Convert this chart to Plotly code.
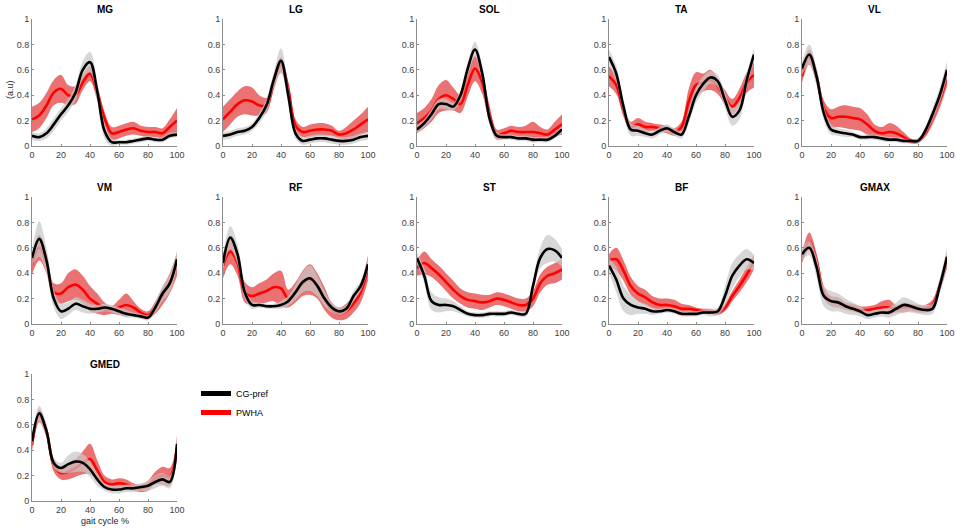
import plotly.graph_objects as go

x = list(range(0, 101, 5))

muscles = ["MG", "LG", "SOL", "TA", "VL", "VM", "RF", "ST", "BF", "GMAX", "GMED"]

# CG-pref mean and SD (black / gray band)
cg_mean = {
    "MG":   [0.08, 0.07, 0.10, 0.17, 0.25, 0.32, 0.42, 0.60, 0.66, 0.43, 0.12, 0.03, 0.03, 0.03, 0.04, 0.05, 0.06, 0.05, 0.05, 0.08, 0.09],
    "LG":   [0.08, 0.09, 0.11, 0.12, 0.15, 0.22, 0.32, 0.52, 0.67, 0.40, 0.10, 0.04, 0.05, 0.06, 0.06, 0.05, 0.04, 0.04, 0.05, 0.07, 0.08],
    "SOL":  [0.13, 0.18, 0.25, 0.33, 0.33, 0.31, 0.40, 0.61, 0.76, 0.57, 0.22, 0.08, 0.07, 0.07, 0.06, 0.06, 0.05, 0.05, 0.05, 0.08, 0.13],
    "TA":   [0.70, 0.57, 0.31, 0.13, 0.12, 0.10, 0.09, 0.12, 0.14, 0.11, 0.09, 0.23, 0.40, 0.49, 0.54, 0.51, 0.36, 0.23, 0.28, 0.52, 0.72],
    "VL":   [0.61, 0.72, 0.55, 0.26, 0.13, 0.11, 0.10, 0.09, 0.07, 0.07, 0.07, 0.06, 0.05, 0.05, 0.04, 0.04, 0.04, 0.12, 0.25, 0.40, 0.60],
    "VM":   [0.52, 0.67, 0.50, 0.20, 0.10, 0.12, 0.16, 0.14, 0.12, 0.12, 0.13, 0.12, 0.10, 0.08, 0.07, 0.06, 0.05, 0.13, 0.24, 0.32, 0.51],
    "RF":   [0.48, 0.68, 0.55, 0.25, 0.15, 0.15, 0.14, 0.14, 0.15, 0.18, 0.25, 0.33, 0.36, 0.30, 0.20, 0.13, 0.10, 0.12, 0.22, 0.30, 0.47],
    "ST":   [0.52, 0.38, 0.18, 0.15, 0.15, 0.14, 0.11, 0.08, 0.07, 0.07, 0.08, 0.08, 0.08, 0.09, 0.08, 0.08, 0.30, 0.52, 0.59, 0.58, 0.52],
    "BF":   [0.46, 0.35, 0.20, 0.15, 0.13, 0.12, 0.10, 0.10, 0.11, 0.10, 0.08, 0.08, 0.08, 0.09, 0.09, 0.10, 0.22, 0.38, 0.46, 0.51, 0.48],
    "GMAX": [0.55, 0.60, 0.45, 0.22, 0.18, 0.17, 0.14, 0.12, 0.10, 0.07, 0.08, 0.09, 0.09, 0.12, 0.15, 0.14, 0.12, 0.11, 0.12, 0.30, 0.53],
    "GMED": [0.47, 0.69, 0.55, 0.30, 0.26, 0.29, 0.31, 0.30, 0.25, 0.17, 0.11, 0.09, 0.09, 0.10, 0.10, 0.11, 0.12, 0.15, 0.17, 0.15, 0.45],
}
cg_sd = {
    "MG":   [0.03, 0.03, 0.04, 0.05, 0.05, 0.05, 0.06, 0.07, 0.08, 0.08, 0.06, 0.03, 0.02, 0.02, 0.02, 0.02, 0.02, 0.02, 0.02, 0.02, 0.02],
    "LG":   [0.03, 0.03, 0.03, 0.03, 0.03, 0.04, 0.05, 0.06, 0.10, 0.07, 0.04, 0.03, 0.03, 0.03, 0.03, 0.03, 0.03, 0.03, 0.03, 0.03, 0.03],
    "SOL":  [0.03, 0.03, 0.04, 0.04, 0.04, 0.03, 0.04, 0.05, 0.06, 0.06, 0.05, 0.03, 0.02, 0.02, 0.02, 0.02, 0.02, 0.02, 0.02, 0.02, 0.03],
    "TA":   [0.06, 0.06, 0.06, 0.05, 0.04, 0.03, 0.03, 0.03, 0.03, 0.03, 0.03, 0.05, 0.06, 0.06, 0.05, 0.05, 0.06, 0.07, 0.07, 0.06, 0.05],
    "VL":   [0.05, 0.08, 0.07, 0.06, 0.04, 0.03, 0.03, 0.02, 0.02, 0.02, 0.02, 0.02, 0.02, 0.02, 0.02, 0.01, 0.02, 0.03, 0.05, 0.06, 0.07],
    "VM":   [0.06, 0.14, 0.10, 0.07, 0.06, 0.05, 0.05, 0.05, 0.04, 0.03, 0.03, 0.03, 0.03, 0.03, 0.02, 0.02, 0.02, 0.04, 0.06, 0.07, 0.07],
    "RF":   [0.05, 0.09, 0.08, 0.05, 0.03, 0.02, 0.02, 0.02, 0.03, 0.04, 0.06, 0.08, 0.10, 0.08, 0.06, 0.04, 0.03, 0.03, 0.04, 0.04, 0.05],
    "ST":   [0.04, 0.06, 0.07, 0.06, 0.05, 0.04, 0.03, 0.02, 0.02, 0.02, 0.02, 0.02, 0.02, 0.02, 0.02, 0.02, 0.05, 0.08, 0.11, 0.09, 0.07],
    "BF":   [0.06, 0.10, 0.10, 0.08, 0.05, 0.04, 0.03, 0.02, 0.02, 0.02, 0.02, 0.02, 0.02, 0.02, 0.03, 0.03, 0.08, 0.10, 0.09, 0.08, 0.06],
    "GMAX": [0.05, 0.06, 0.08, 0.08, 0.08, 0.07, 0.06, 0.05, 0.04, 0.03, 0.03, 0.03, 0.04, 0.05, 0.06, 0.05, 0.04, 0.04, 0.04, 0.06, 0.07],
    "GMED": [0.04, 0.06, 0.05, 0.04, 0.04, 0.07, 0.08, 0.07, 0.06, 0.05, 0.03, 0.03, 0.03, 0.03, 0.03, 0.03, 0.04, 0.05, 0.05, 0.05, 0.08],
}

# PWHA mean and SD (red)
pw_mean = {
    "MG":   [0.21, 0.24, 0.32, 0.42, 0.45, 0.40, 0.40, 0.50, 0.57, 0.42, 0.22, 0.10, 0.11, 0.13, 0.14, 0.12, 0.11, 0.11, 0.10, 0.15, 0.20],
    "LG":   [0.21, 0.27, 0.33, 0.36, 0.35, 0.32, 0.32, 0.50, 0.64, 0.45, 0.16, 0.11, 0.12, 0.13, 0.13, 0.12, 0.09, 0.10, 0.13, 0.17, 0.21],
    "SOL":  [0.18, 0.22, 0.28, 0.37, 0.40, 0.37, 0.33, 0.48, 0.61, 0.50, 0.25, 0.09, 0.10, 0.12, 0.11, 0.11, 0.11, 0.10, 0.09, 0.13, 0.17],
    "TA":   [0.55, 0.48, 0.28, 0.15, 0.17, 0.15, 0.15, 0.14, 0.13, 0.11, 0.15, 0.35, 0.48, 0.50, 0.52, 0.47, 0.38, 0.31, 0.38, 0.50, 0.56],
    "VL":   [0.55, 0.70, 0.55, 0.30, 0.22, 0.23, 0.23, 0.22, 0.21, 0.17, 0.12, 0.10, 0.11, 0.10, 0.07, 0.04, 0.04, 0.10, 0.22, 0.36, 0.54],
    "VM":   [0.47, 0.60, 0.48, 0.25, 0.24, 0.29, 0.31, 0.27, 0.20, 0.16, 0.12, 0.11, 0.13, 0.15, 0.13, 0.09, 0.07, 0.13, 0.22, 0.32, 0.47],
    "RF":   [0.46, 0.57, 0.48, 0.25, 0.22, 0.24, 0.26, 0.29, 0.28, 0.20, 0.25, 0.32, 0.35, 0.30, 0.20, 0.11, 0.08, 0.10, 0.16, 0.25, 0.44],
    "ST":   [0.44, 0.48, 0.44, 0.39, 0.33, 0.27, 0.22, 0.19, 0.18, 0.17, 0.18, 0.20, 0.19, 0.17, 0.15, 0.15, 0.20, 0.32, 0.38, 0.40, 0.43],
    "BF":   [0.50, 0.51, 0.42, 0.30, 0.24, 0.21, 0.17, 0.15, 0.15, 0.14, 0.12, 0.12, 0.11, 0.10, 0.10, 0.09, 0.13, 0.22, 0.30, 0.39, 0.49],
    "GMAX": [0.52, 0.65, 0.50, 0.25, 0.18, 0.17, 0.14, 0.13, 0.11, 0.11, 0.12, 0.13, 0.13, 0.12, 0.13, 0.13, 0.12, 0.12, 0.15, 0.30, 0.50],
    "GMED": [0.44, 0.67, 0.55, 0.28, 0.22, 0.23, 0.26, 0.30, 0.33, 0.24, 0.15, 0.13, 0.14, 0.13, 0.11, 0.10, 0.12, 0.18, 0.20, 0.19, 0.42],
}
pw_sd = {
    "MG":   [0.10, 0.10, 0.10, 0.10, 0.11, 0.08, 0.07, 0.06, 0.06, 0.06, 0.05, 0.05, 0.05, 0.05, 0.05, 0.04, 0.04, 0.04, 0.04, 0.06, 0.10],
    "LG":   [0.10, 0.10, 0.10, 0.11, 0.11, 0.08, 0.06, 0.06, 0.06, 0.06, 0.05, 0.04, 0.05, 0.05, 0.05, 0.04, 0.03, 0.05, 0.07, 0.08, 0.10],
    "SOL":  [0.08, 0.08, 0.09, 0.11, 0.12, 0.09, 0.07, 0.09, 0.10, 0.09, 0.07, 0.04, 0.04, 0.04, 0.04, 0.05, 0.08, 0.05, 0.04, 0.06, 0.08],
    "TA":   [0.08, 0.07, 0.05, 0.04, 0.05, 0.04, 0.03, 0.03, 0.03, 0.03, 0.04, 0.10, 0.10, 0.07, 0.08, 0.06, 0.06, 0.06, 0.07, 0.08, 0.10],
    "VL":   [0.05, 0.06, 0.06, 0.06, 0.07, 0.08, 0.09, 0.09, 0.09, 0.08, 0.05, 0.05, 0.07, 0.06, 0.04, 0.02, 0.02, 0.03, 0.05, 0.06, 0.07],
    "VM":   [0.08, 0.10, 0.08, 0.07, 0.08, 0.11, 0.12, 0.11, 0.10, 0.08, 0.05, 0.03, 0.06, 0.09, 0.05, 0.03, 0.03, 0.05, 0.07, 0.08, 0.09],
    "RF":   [0.10, 0.10, 0.10, 0.08, 0.07, 0.08, 0.09, 0.11, 0.14, 0.07, 0.08, 0.10, 0.12, 0.10, 0.09, 0.06, 0.05, 0.06, 0.07, 0.08, 0.10],
    "ST":   [0.06, 0.09, 0.07, 0.07, 0.07, 0.07, 0.06, 0.06, 0.06, 0.06, 0.05, 0.05, 0.05, 0.05, 0.05, 0.05, 0.06, 0.07, 0.07, 0.08, 0.08],
    "BF":   [0.05, 0.09, 0.08, 0.07, 0.06, 0.06, 0.05, 0.05, 0.05, 0.05, 0.04, 0.03, 0.02, 0.02, 0.02, 0.02, 0.03, 0.04, 0.05, 0.06, 0.06],
    "GMAX": [0.04, 0.07, 0.06, 0.05, 0.04, 0.04, 0.03, 0.03, 0.03, 0.03, 0.03, 0.05, 0.06, 0.03, 0.04, 0.03, 0.03, 0.03, 0.04, 0.05, 0.06],
    "GMED": [0.05, 0.05, 0.05, 0.05, 0.05, 0.06, 0.07, 0.09, 0.12, 0.08, 0.05, 0.04, 0.04, 0.04, 0.03, 0.03, 0.04, 0.05, 0.07, 0.07, 0.09],
}

x_ticks = [0, 20, 40, 60, 80, 100]
y_ticks = [0, 0.2, 0.4, 0.6, 0.8, 1]
y_tick_labels = ["0", "0.2", "0.4", "0.6", "0.8", "1"]
legend_names = ["CG-pref", "PWHA"]
legend_colors = ["#000000", "#ff0000"]

W, H = 956, 528
col_left = [32, 223, 417, 609, 802]
panel_w = 145
row_top = [19, 197, 374]
panel_h = 127

RED_FILL = "rgba(222,20,20,0.6)"
GRAY_FILL = "rgba(200,200,200,0.72)"
FONT = "Liberation Sans, Arial, sans-serif"

fig = go.Figure()
layout = {}
annotations = []

# legend-only entries (in reference order)
for nm, col in zip(legend_names, legend_colors):
    fig.add_trace(go.Scatter(x=[None], y=[None], mode="lines", name=nm,
                             line=dict(color=col, width=5), showlegend=True))

for i, m in enumerate(muscles):
    r, c = divmod(i, 5)
    n = "" if i == 0 else str(i + 1)
    xa, ya = "x" + n, "y" + n
    x0 = col_left[c] / W
    x1 = (col_left[c] + panel_w) / W
    y1 = 1 - row_top[r] / H
    y0 = 1 - (row_top[r] + panel_h) / H
    axis_common = dict(showline=True, linecolor="#8c8c8c", linewidth=1, showgrid=False,
                       zeroline=False, ticks="inside", ticklen=2, tickcolor="#8c8c8c",
                       automargin=False,
                       tickfont=dict(family=FONT, size=9, color="#404040"))
    layout["xaxis" + n] = dict(domain=[x0, x1], anchor=ya, range=[0, 100],
                               tickvals=x_ticks, **axis_common)
    layout["yaxis" + n] = dict(domain=[y0, y1], anchor=xa, range=[0, 1],
                               tickvals=y_ticks, ticktext=y_tick_labels, **axis_common)

    pm, ps = pw_mean[m], pw_sd[m]
    cm, cs = cg_mean[m], cg_sd[m]
    pl = [a - b for a, b in zip(pm, ps)]
    pu = [a + b for a, b in zip(pm, ps)]
    cl = [a - b for a, b in zip(cm, cs)]
    cu = [a + b for a, b in zip(cm, cs)]

    fig.add_trace(go.Scatter(x=x, y=pl, xaxis=xa, yaxis=ya, mode="lines",
                             line=dict(width=0, shape="spline"), showlegend=False, hoverinfo="skip"))
    fig.add_trace(go.Scatter(x=x, y=pu, xaxis=xa, yaxis=ya, mode="lines", fill="tonexty",
                             fillcolor=RED_FILL, line=dict(width=0, shape="spline"),
                             showlegend=False, hoverinfo="skip"))
    fig.add_trace(go.Scatter(x=x, y=pm, xaxis=xa, yaxis=ya, mode="lines", name="PWHA",
                             line=dict(color="#ff0000", width=2.6, shape="spline"),
                             showlegend=False))
    fig.add_trace(go.Scatter(x=x, y=cl, xaxis=xa, yaxis=ya, mode="lines",
                             line=dict(width=0, shape="spline"), showlegend=False, hoverinfo="skip"))
    fig.add_trace(go.Scatter(x=x, y=cu, xaxis=xa, yaxis=ya, mode="lines", fill="tonexty",
                             fillcolor=GRAY_FILL, line=dict(width=0, shape="spline"),
                             showlegend=False, hoverinfo="skip"))
    fig.add_trace(go.Scatter(x=x, y=cm, xaxis=xa, yaxis=ya, mode="lines", name="CG-pref",
                             line=dict(color="#000000", width=2.6, shape="spline"),
                             showlegend=False))

    annotations.append(dict(text="<b>" + m + "</b>", xref="paper", yref="paper",
                            x=(x0 + x1) / 2, y=y1 + 2 / H, xanchor="center", yanchor="bottom",
                            showarrow=False, font=dict(family=FONT, size=10, color="#000000")))

annotations.append(dict(text="(a.u)", xref="paper", yref="paper", x=10 / W, y=1 - 90 / H,
                        textangle=-90, showarrow=False, xanchor="center", yanchor="middle",
                        font=dict(family=FONT, size=9, color="#262626")))
annotations.append(dict(text="gait cycle %", xref="paper", yref="paper", x=(32 + 72.5) / W,
                        y=1 - 521 / H, showarrow=False, xanchor="center", yanchor="middle",
                        font=dict(family=FONT, size=9, color="#262626")))

fig.update_layout(
    width=W, height=H,
    margin=dict(l=0, r=0, t=0, b=0, autoexpand=False),
    paper_bgcolor="white", plot_bgcolor="white",
    annotations=annotations,
    showlegend=True,
    legend=dict(x=196 / W, y=1 - 379 / H, xanchor="left", yanchor="top",
                traceorder="normal",
                font=dict(family=FONT, size=9, color="#000000"),
                bgcolor="rgba(0,0,0,0)", itemwidth=30, tracegroupgap=0),
    **layout,
)

fig.write_html("out.html", config={"displayModeBar": False},
               post_script="document.body.style.margin='0';document.body.style.overflow='hidden';")
